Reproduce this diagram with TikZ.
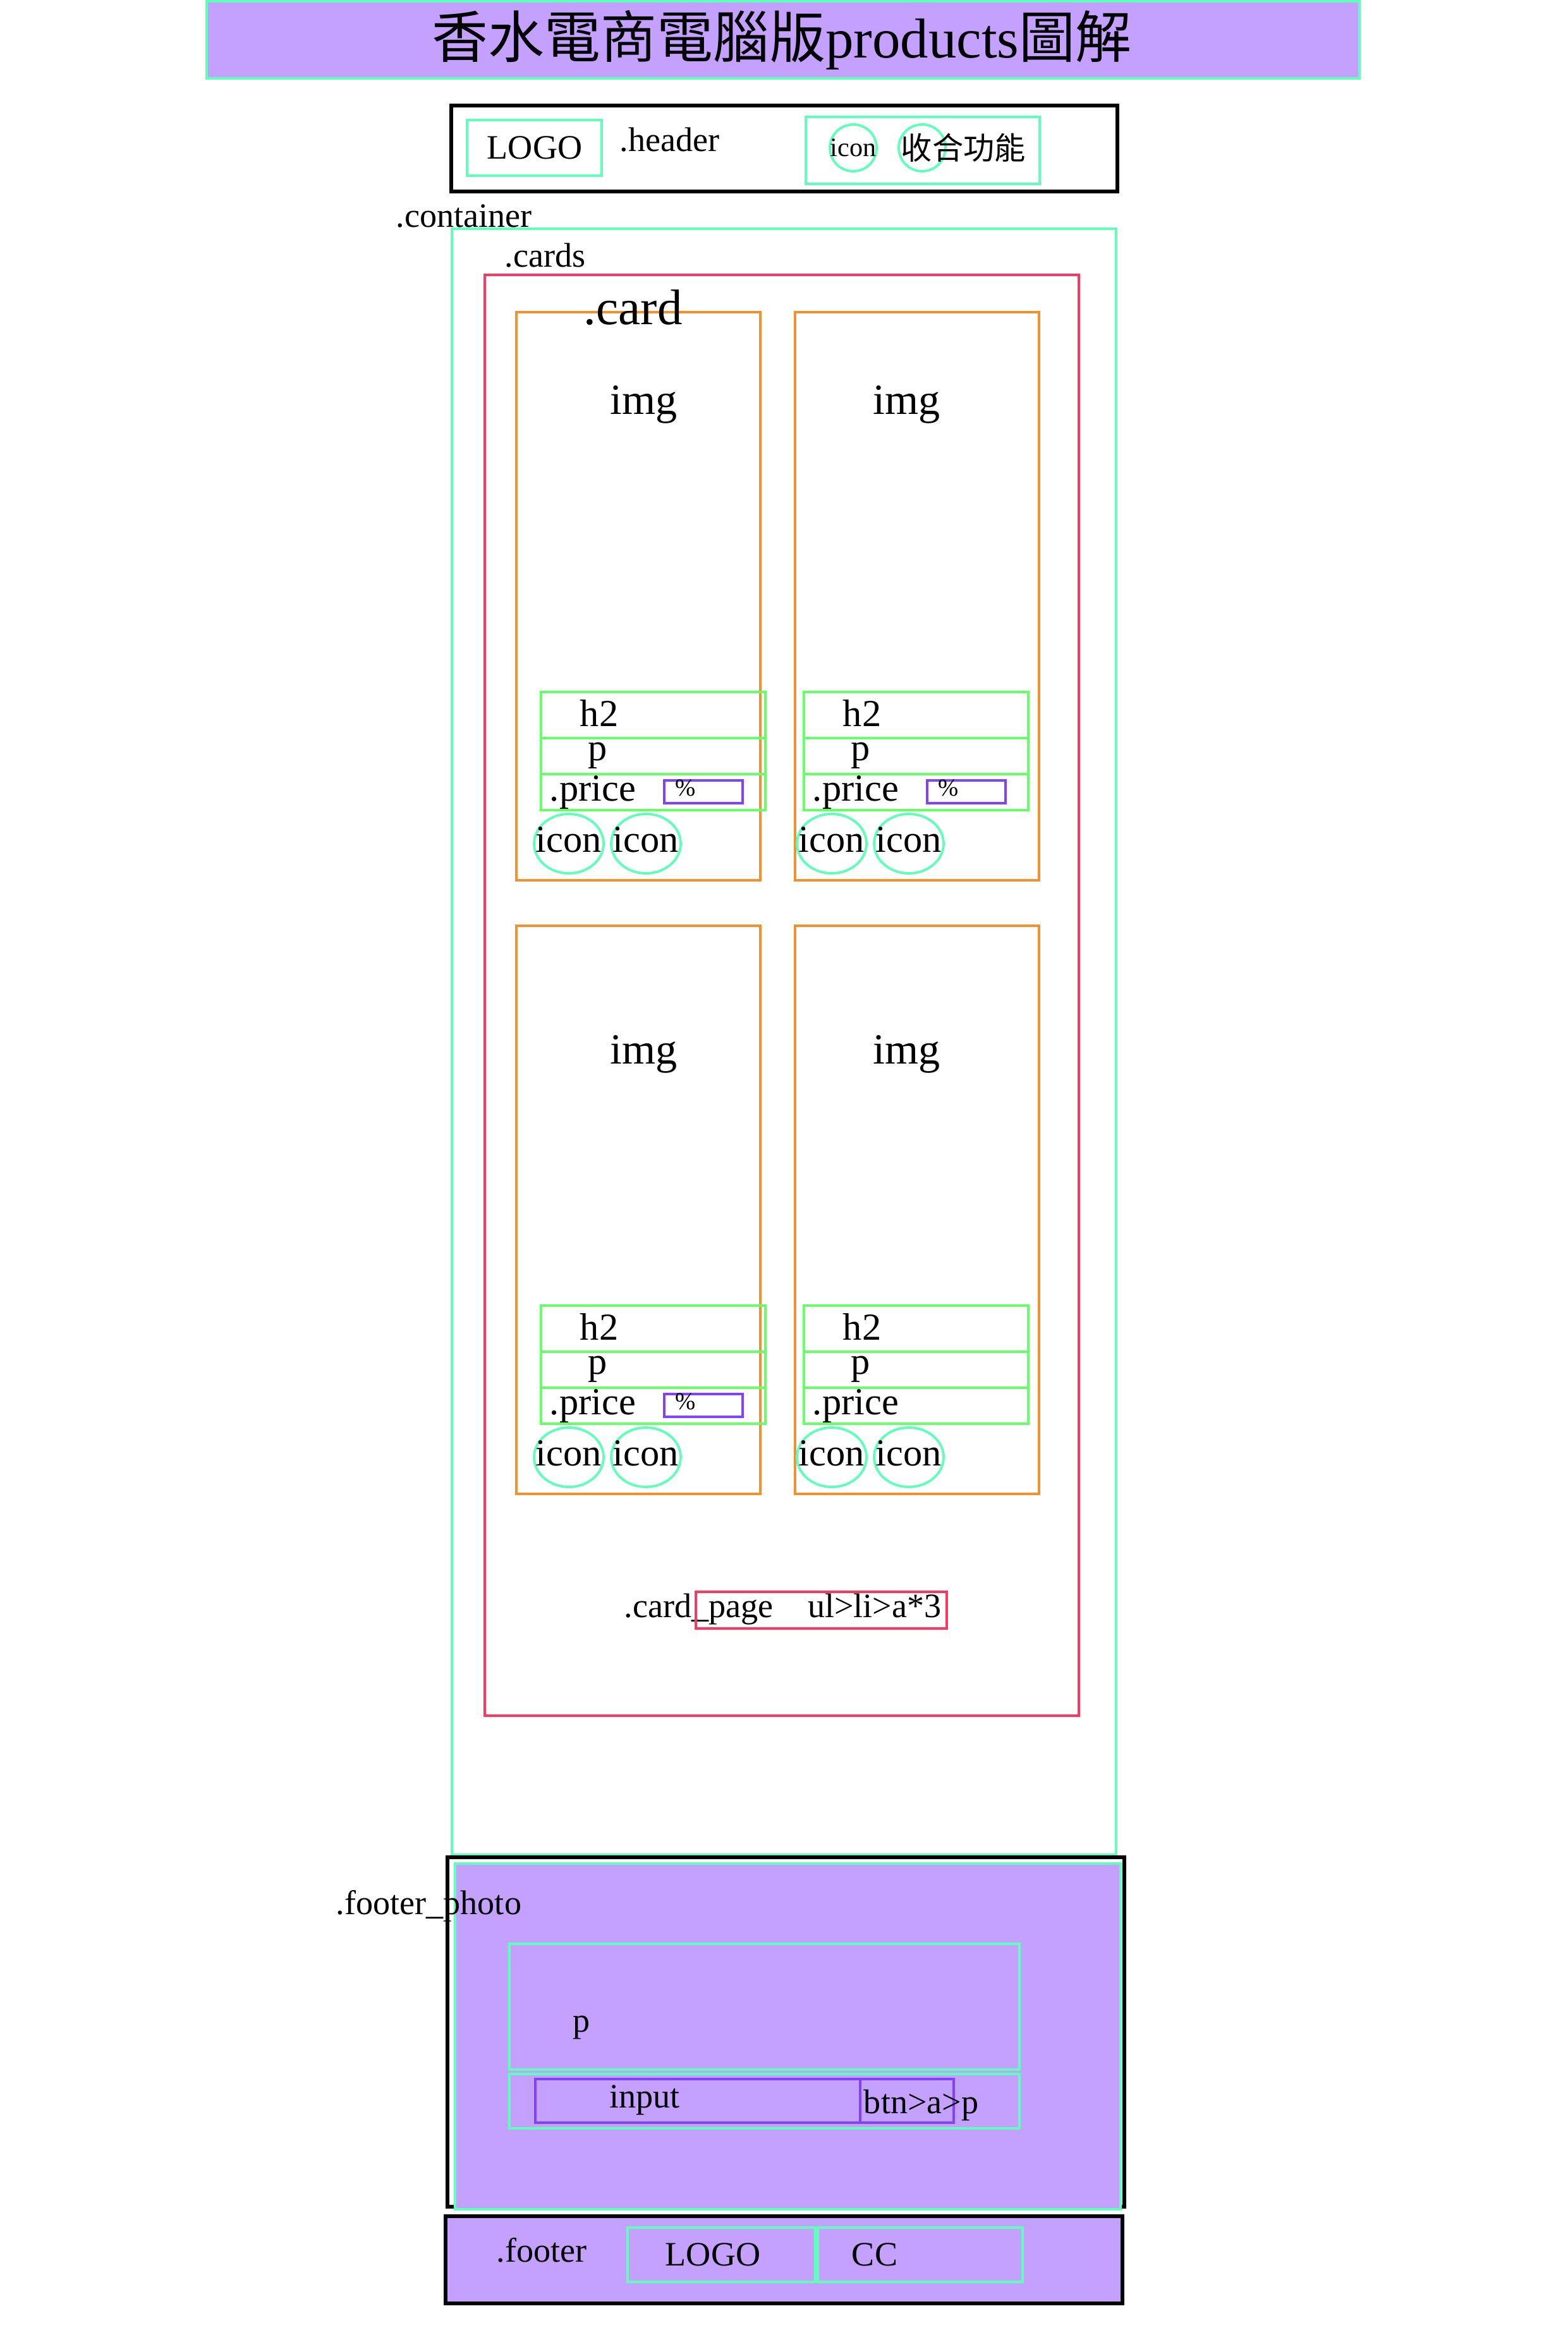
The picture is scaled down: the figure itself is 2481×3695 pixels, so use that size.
\documentclass[tikz,border=0pt]{standalone}
\usepackage{fontspec}
\setmainfont{Liberation Serif}
\newfontfamily\cjk{Noto Sans CJK TC}
\usetikzlibrary{positioning,shapes.geometric}
\definecolor{lav}{RGB}{197,161,255}
\definecolor{aqua}{RGB}{96,255,186}
\definecolor{leaf}{RGB}{104,255,104}
\definecolor{amber}{RGB}{240,146,48}
\definecolor{rose}{RGB}{255,54,96}
\definecolor{iris}{RGB}{128,66,255}

\begin{document}
\begin{tikzpicture}[x=0.1mm,y=-0.1mm,line width=1.1pt,
  txt/.style={inner sep=0pt,font=\fontsize{15.4}{18}\selectfont},
  cardtxt/.style={inner sep=0pt,font=\fontsize{17.2}{20}\selectfont},
  smalltxt/.style={inner sep=0pt,font=\fontsize{12}{14}\selectfont},
  pcttxt/.style={inner sep=0pt,font=\fontsize{11}{13}\selectfont},
  greenbox/.style={draw=leaf,line width=1.4pt},
  ring/.style={draw=aqua,ellipse,inner sep=0pt,minimum width=11mm,minimum height=9.4mm},
  hring/.style={draw=aqua,circle,inner sep=0pt,minimum size=7.4mm}]
\useasboundingbox (0,0) rectangle (2481,3695);
% title
\draw[draw=aqua,fill=lav] (327,2) rectangle (2151,124);
\node[inner sep=0pt,font=\fontsize{25.3}{30}\selectfont] (title) at (1237,63) {{\cjk 香水電商電腦版}products{\cjk 圖解}};
% header
\draw[line width=1.6pt] (714,167) rectangle (1768,303);
\draw[aqua] (739,190) rectangle (952,278);
\node[txt] (logo) at (846,234) {LOGO};
\node[txt,anchor=west] (header) at (979,221) {.header};
\draw[aqua] (1275,185) rectangle (1645,291);
\node[hring] (hicon) at (1350,234) {};
\node[smalltxt] at (hicon) {icon};
\node[hring] (hfold) at (1459,234) {};
\node[inner sep=0pt,anchor=west,font=\cjk\fontsize{14}{16}\selectfont] (fold) at (1424,234) {收合功能};
% container
\node[txt,anchor=west] (container) at (625,342) {.container};
\draw[aqua] (715,362) rectangle (1766,2935);
\node[txt,anchor=west] (cards) at (797,404) {.cards};
\draw[rose] (767,435) rectangle (1707,2715);
% cards
\foreach \cx/\gx/\cy/\iy/\pct [count=\n] in {817/856/494/146/1,1258/1272/494/146/1,817/856/1465/203/1,1258/1272/1465/203/0}{
  \draw[amber] (\cx,\cy) rectangle ++(386,899);
  \node[inner sep=0pt,font=\fontsize{19.4}{22}\selectfont] (img\n) at (\gx+163,\cy+\iy) {img};
  \draw[greenbox] (\gx,\cy+601) rectangle ++(355,73);
  \draw[greenbox] (\gx,\cy+674) rectangle ++(355,57);
  \draw[greenbox] (\gx,\cy+731) rectangle ++(355,57);
  \node[cardtxt] (h2\n) at (\gx+92,\cy+635) {h2};
  \node[cardtxt] (p\n) at (\gx+90,\cy+702) {p};
  \node[cardtxt,anchor=west] (price\n) at (\gx+12,\cy+760) {.price};
  \ifnum\pct=1
    \draw[iris] (\gx+195,\cy+741) rectangle ++(124,36);
    \node[pcttxt,anchor=west] (pct\n) at (\gx+211,\cy+753) {\%};
  \fi
  \node[ring] (ia\n) at (\gx+44,\cy+841) {};
  \node[ring] (ib\n) at (\gx+166,\cy+841) {};
  \node[cardtxt] at (\gx+44,\cy+835) {icon};
  \node[cardtxt] at (\gx+166,\cy+835) {icon};
}
\node[inner sep=0pt,anchor=west,font=\fontsize{22.5}{26}\selectfont] (card) at (922,487) {.card};
% pagination
\node[txt,anchor=west] (page) at (986,2547) {.card\_page\quad ul>li>a*3};
\draw[rose] (1101,2519) rectangle (1498,2577);
% footer photo
\draw[line width=1.6pt] (708,2939) rectangle (1779,3492);
\draw[aqua,fill=lav] (720,2949) rectangle (1773,3496);
\node[txt,anchor=west] (fphoto) at (530,3016) {.footer\_photo};
\draw[aqua] (806,3076) rectangle (1613,3275);
\node[txt] (fp) at (920,3208) {p};
\draw[aqua] (806,3282) rectangle (1613,3368);
\draw[iris] (847,3290) rectangle (1361,3359);
\draw[iris] (1361,3290) rectangle (1509,3359);
\node[txt] (input) at (1020,3323) {input};
\node[txt,anchor=west] (btn) at (1365,3331) {btn>a>p};
% footer
\draw[line width=1.6pt,fill=lav] (705,3507) rectangle (1776,3645);
\node[txt,anchor=west] (footer) at (784,3561) {.footer};
\draw[aqua] (993,3525) rectangle (1290,3611);
\draw[aqua] (1294,3525) rectangle (1618,3611);
\node[txt] (flogo) at (1128,3568) {LOGO};
\node[txt,anchor=west] (cc) at (1346,3568) {CC};
\end{tikzpicture}
\end{document}
